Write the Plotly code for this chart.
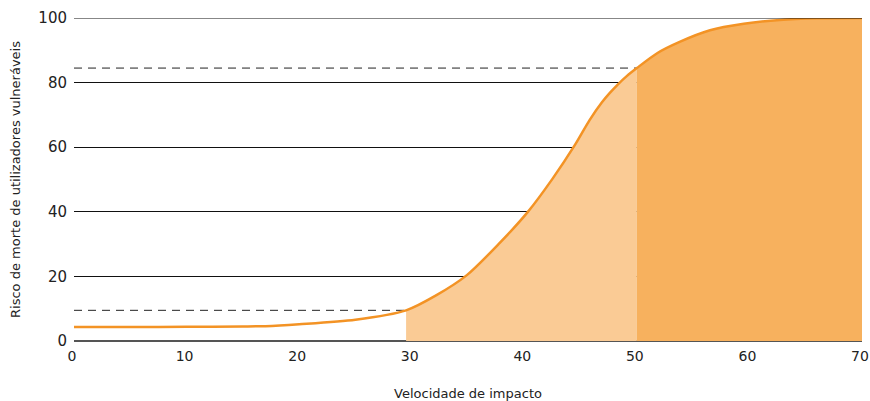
import plotly.graph_objects as go

# Impact speed (km/h) and risk of death for vulnerable road users (%)
speed = [0, 5, 10, 15, 17, 20, 25, 29.5, 32.2, 34.9, 37.8, 40.3, 42.5, 44.5, 45.8,
         46.9, 47.6, 48.3, 49.1, 50, 51.8, 53.8, 56.5, 59.5, 62.7, 66, 70]
risk = [4.3, 4.3, 4.4, 4.5, 4.6, 5.2, 6.6, 9.5, 14.2, 20.4, 30.3, 39.9, 50.2, 60.7, 68.4,
        73.9, 76.8, 79.4, 82.0, 84.5, 89.1, 92.6, 96.2, 98.2, 99.4, 99.9, 100]

# Reference thresholds (speed, risk)
ref_speeds = [29.5, 50]
ref_risks = [9.5, 84.5]

x_ticks = [0, 10, 20, 30, 40, 50, 60, 70]
y_ticks = [0, 20, 40, 60, 80, 100]

LINE = "#F39325"
LIGHT = "#FACB95"
DARK = "#F7B15E"
SMOOTH = 0.8

fig = go.Figure()

def segment(lo, hi):
    xs = [s for s in speed if lo <= s <= hi]
    ys = [r for s, r in zip(speed, risk) if lo <= s <= hi]
    return xs, ys

lx, ly = segment(ref_speeds[0], ref_speeds[1])
fig.add_trace(go.Scatter(x=lx, y=ly, mode="none", fill="tozeroy",
                         fillcolor=LIGHT, hoverinfo="skip",
                         line=dict(shape="spline", smoothing=SMOOTH)))
dx, dy = segment(ref_speeds[1], 70)
fig.add_trace(go.Scatter(x=dx, y=dy, mode="none", fill="tozeroy",
                         fillcolor=DARK, hoverinfo="skip",
                         line=dict(shape="spline", smoothing=SMOOTH)))

for s, r in zip(ref_speeds, ref_risks):
    fig.add_trace(go.Scatter(x=[0, s], y=[r, r], mode="lines",
                             line=dict(color="#222222", width=1, dash="8px,6px"),
                             hoverinfo="skip"))

fig.add_trace(go.Scatter(x=speed, y=risk, mode="lines",
                         line=dict(color=LINE, width=2.5, shape="spline", smoothing=SMOOTH)))

# Top gridline at 100 sits on the plot edge, so draw it explicitly
fig.add_shape(type="line", xref="paper", x0=0, x1=1, yref="y", y0=100, y1=100,
              line=dict(color="#111111", width=1.2), layer="above")

fig.update_layout(
    width=870, height=401,
    margin=dict(l=74, r=8, t=18, b=60, autoexpand=False),
    paper_bgcolor="white", plot_bgcolor="white",
    showlegend=False,
    font=dict(family="DejaVu Sans", color="#222222"),
    xaxis=dict(range=[0, 70], tickvals=x_ticks, showgrid=False, zeroline=False,
               showline=False, ticks="", tickfont=dict(size=14), automargin=False,
               ticklabelstandoff=5, ticklabelshift=-2, ticklabeloverflow="allow",
               title=dict(text="Velocidade de impacto", font=dict(size=13), standoff=26)),
    yaxis=dict(range=[0, 100], tickvals=y_ticks, showgrid=True, gridcolor="#111111",
               gridwidth=1, zeroline=True, zerolinecolor="#555555", zerolinewidth=2,
               showline=False, ticks="", tickfont=dict(size=15), ticklabelstandoff=6,
               ticklabeloverflow="allow", automargin=False,
               title=dict(text="Risco de morte de utilizadores vulneráveis",
                          font=dict(size=13), standoff=14)),
)

fig.write_html("out.html")
